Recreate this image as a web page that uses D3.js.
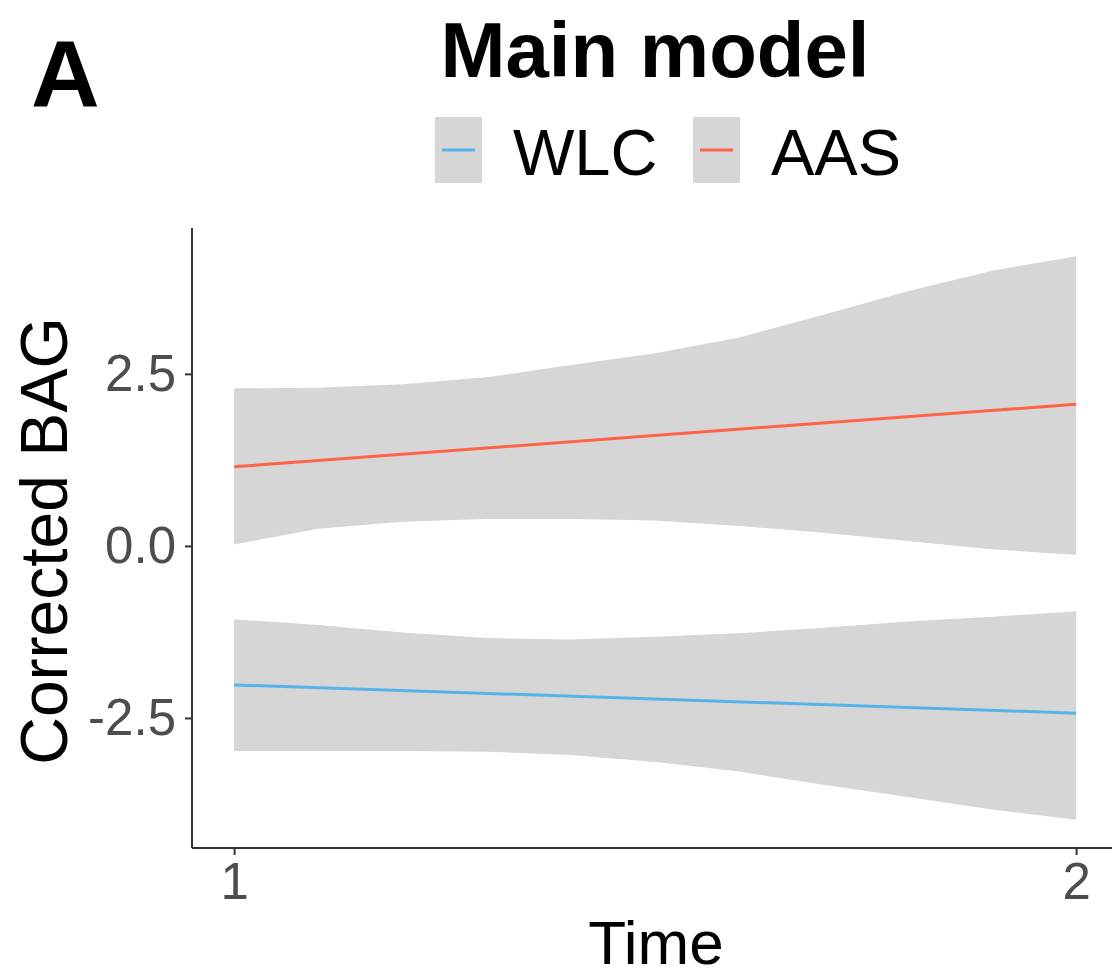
<!DOCTYPE html>
<html><head><meta charset="utf-8">
<script src="https://cdn.jsdelivr.net/npm/d3@7"></script>
<style>body{margin:0;background:#fff}svg{display:block}text{font-family:"Liberation Sans",Arial,sans-serif}</style>
</head><body>
<script>
const seriesNames = ["WLC", "AAS"];
const seriesColors = ["#56B4E9", "#FF6347"];
const ribbonTimes = [1, 1.1, 1.2, 1.3, 1.4, 1.5, 1.6, 1.7, 1.8, 1.9, 2];
const wlcUpper = [-1.065, -1.15, -1.26, -1.34, -1.36, -1.32, -1.27, -1.19, -1.10, -1.03, -0.95];
const wlcLower = [-2.98, -2.98, -2.98, -2.99, -3.04, -3.14, -3.28, -3.47, -3.65, -3.83, -3.98];
const aasUpper = [2.29, 2.30, 2.35, 2.45, 2.63, 2.80, 3.03, 3.36, 3.70, 4.00, 4.21];
const aasLower = [0.02, 0.25, 0.35, 0.39, 0.39, 0.37, 0.29, 0.19, 0.07, -0.05, -0.13];
const lineTimes = [1, 2];
const wlcLine = [-2.02, -2.43];
const aasLine = [1.15, 2.06];
const xTicks = [1, 2];
const yTicks = [-2.5, 0, 2.5];
const yTickLabels = ["-2.5", "0.0", "2.5"];

(function () {
const W = 1112, H = 978;
const svg = d3.select("body").append("svg").attr("width", W).attr("height", H);
const pLeft = 192, pTop = 228, pBottom = 848;
const x = d3.scaleLinear().domain([0.95, 2.05]).range([pLeft, pLeft + 842 * 1.1]);
const y = d3.scaleLinear().domain([-4.39, 4.62]).range([pBottom, pTop]);

svg.append("clipPath").attr("id", "clip").append("rect")
  .attr("x", pLeft).attr("y", pTop).attr("width", W - pLeft).attr("height", pBottom - pTop);
const plot = svg.append("g").attr("clip-path", "url(#clip)");

const ribbons = [
  {up: wlcUpper, lo: wlcLower, line: wlcLine, color: seriesColors[0]},
  {up: aasUpper, lo: aasLower, line: aasLine, color: seriesColors[1]}
];
const area = d3.area().x(d => x(d.t)).y0(d => y(d.lo)).y1(d => y(d.up));
const line = d3.line().x(d => x(d.t)).y(d => y(d.v));
ribbons.forEach(r => {
  plot.append("path")
    .datum(ribbonTimes.map((t, i) => ({t, up: r.up[i], lo: r.lo[i]})))
    .attr("d", area).attr("fill", "#D6D6D6");
});
ribbons.forEach(r => {
  plot.append("path")
    .datum(lineTimes.map((t, i) => ({t, v: r.line[i]})))
    .attr("d", line).attr("fill", "none").attr("stroke", r.color).attr("stroke-width", 3);
});

const yAxis = d3.axisLeft(y).tickValues(yTicks).tickFormat((d, i) => yTickLabels[i]).tickSize(7).tickPadding(9);
const gy = svg.append("g").attr("transform", `translate(${pLeft},0)`).call(yAxis);
gy.select(".domain").attr("d", `M0,${pTop}V${pBottom}`).attr("stroke", "#333").attr("stroke-width", 2);
gy.selectAll(".tick line").attr("stroke", "#333").attr("stroke-width", 2);
gy.selectAll(".tick text").attr("fill", "#4D4D4D").attr("font-size", 51);

const xAxis = d3.axisBottom(x).tickValues(xTicks).tickFormat(d3.format("d")).tickSize(7).tickPadding(8);
const gx = svg.append("g").attr("transform", `translate(0,${pBottom})`).call(xAxis);
gx.select(".domain").attr("d", `M${pLeft},0H${W}`).attr("stroke", "#333").attr("stroke-width", 2);
gx.selectAll(".tick line").attr("stroke", "#333").attr("stroke-width", 2);
gx.selectAll(".tick text").attr("fill", "#4D4D4D").attr("font-size", 51);

svg.append("text").attr("x", 656).attr("y", 964).attr("text-anchor", "middle")
  .attr("font-size", 62).attr("fill", "#000").text("Time");
svg.append("text").attr("transform", "translate(67,541) rotate(-90)").attr("text-anchor", "middle")
  .attr("font-size", 66).attr("fill", "#000").text("Corrected BAG");
svg.append("text").attr("x", 31).attr("y", 107).attr("font-size", 95).attr("font-weight", "bold")
  .attr("fill", "#000").text("A");
svg.append("text").attr("x", 655).attr("y", 77).attr("text-anchor", "middle")
  .attr("font-size", 78).attr("font-weight", "bold").attr("fill", "#000").text("Main model");

const legX = [435, 693], legTextX = [513, 771];
seriesNames.forEach((n, i) => {
  svg.append("rect").attr("x", legX[i]).attr("y", 117).attr("width", 47).attr("height", 66).attr("fill", "#D6D6D6");
  svg.append("line").attr("x1", legX[i] + 7).attr("x2", legX[i] + 40).attr("y1", 150).attr("y2", 150)
    .attr("stroke", seriesColors[i]).attr("stroke-width", 3);
  svg.append("text").attr("x", legTextX[i]).attr("y", 175).attr("font-size", 65).attr("fill", "#000").text(n);
});
})();
</script>
</body></html>
